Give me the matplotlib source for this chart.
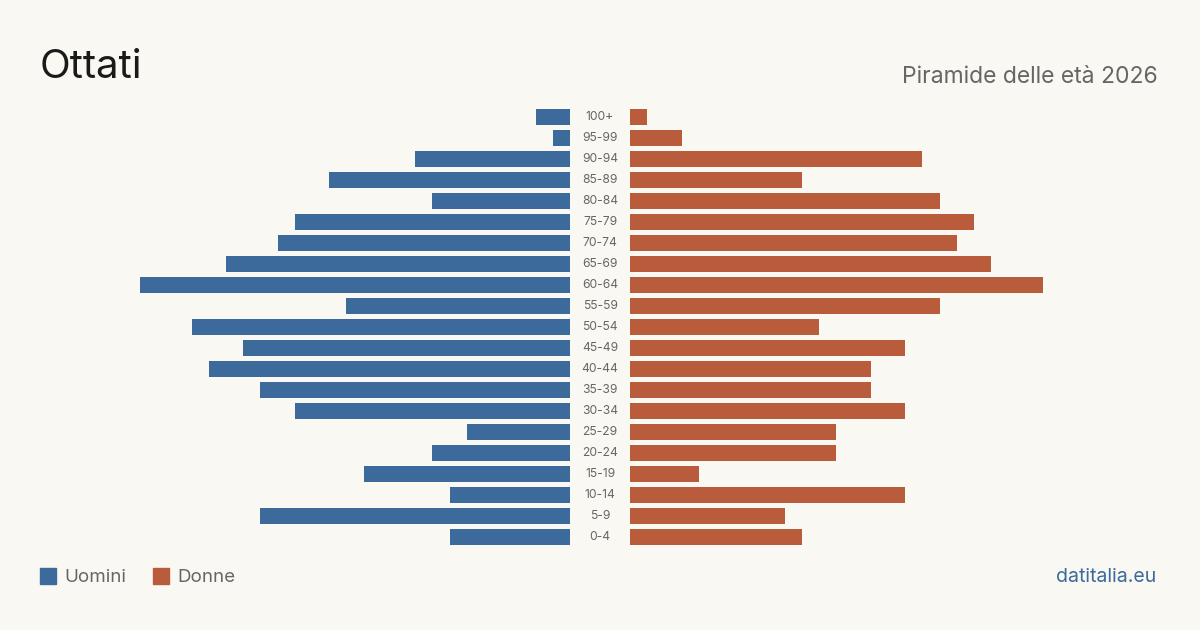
import matplotlib.pyplot as plt
import numpy as np

# --- DATA ---
age_groups = ["0-4", "5-9", "10-14", "15-19", "20-24", "25-29", "30-34", "35-39",
              "40-44", "45-49", "50-54", "55-59", "60-64", "65-69", "70-74",
              "75-79", "80-84", "85-89", "90-94", "95-99", "100+"]
men = [7, 18, 7, 12, 8, 6, 16, 18, 21, 19, 22, 13, 25, 20, 17, 16, 8, 14, 9, 1, 2]
women = [10, 9, 16, 4, 12, 12, 16, 14, 14, 16, 11, 18, 24, 21, 19, 20, 18, 10, 17, 3, 1]

BG = "#f9f8f3"
BLUE = "#3b6a9b"
ORANGE = "#b95c3c"
GREY = "#666666"

plt.rcParams['font.family'] = ['Inter', 'DejaVu Sans']

fig = plt.figure(figsize=(12, 6.3), dpi=100, facecolor=BG)
W, H = 1200, 630

# axes placement in pixels
top, bottom = 106.5, 547.5
ax_w = 440
y0 = 1 - bottom / H
h = (bottom - top) / H
ax_l = fig.add_axes([(570 - ax_w) / W, y0, ax_w / W, h])
ax_r = fig.add_axes([630 / W, y0, ax_w / W, h])

y = np.arange(len(age_groups))
xmax = ax_w / 17.2
for ax, vals, col in [(ax_l, men, BLUE), (ax_r, women, ORANGE)]:
    ax.barh(y, vals, height=0.8, color=col)
    ax.set_ylim(-0.5, len(age_groups) - 0.5)
    ax.set_facecolor(BG)
    ax.axis('off')
ax_l.set_xlim(xmax, 0)
ax_r.set_xlim(0, xmax)

# age labels in the middle
for i, lab in enumerate(age_groups):
    yp = bottom - (i + 0.5) * (bottom - top) / len(age_groups)
    fig.text(600 / W, 1 - yp / H, lab, ha='center', va='center', fontsize=8.7, color=GREY)

# titles
fig.text(40 / W, 1 - 67 / H, "Ottati", fontsize=29, color="#1a1a1a", va='center', ha='left')
fig.text(1158 / W, 1 - 77 / H, "Piramide delle età 2026", fontsize=16.5, color=GREY,
         va='center', ha='right')

# legend
for xs, lab, col in [(40, "Uomini", BLUE), (153, "Donne", ORANGE)]:
    fig.patches.append(plt.Rectangle((xs / W, 1 - 584 / H), 16 / W, 16 / H,
                                     transform=fig.transFigure, color=col))
    fig.text((xs + 24) / W, 1 - 577 / H, lab, fontsize=13.5, color=GREY, va='center', ha='left')

fig.text(1156 / W, 1 - 577 / H, "datitalia.eu", fontsize=14, color=BLUE, va='center', ha='right')

plt.savefig("out.png", dpi=100, facecolor=BG)
plt.close()
